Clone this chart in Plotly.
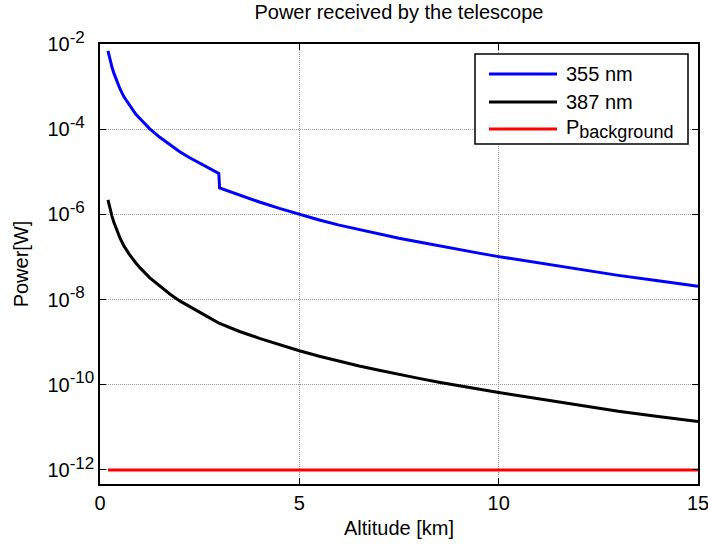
import plotly.graph_objects as go

# ---- data ----
alt_355 = [0.2, 0.25, 0.3, 0.35, 0.4, 0.5, 0.6, 0.75, 0.9, 1.0, 1.25, 1.5, 1.75, 2.0, 2.25, 2.5, 2.75, 2.98,
           3.0, 3.5, 4.0, 4.5, 5.0, 5.5, 6.0, 6.5, 7.0, 7.5, 8.0, 8.5, 9.0, 9.5, 10.0,
           11.0, 12.0, 13.0, 14.0, 15.0]
p_355 = [6.92e-3, 4.27e-3, 2.88e-3, 2.04e-3, 1.51e-3, 8.9e-4, 5.75e-4, 3.47e-4, 2.24e-4, 1.78e-4,
         1.02e-4, 6.46e-5, 4.27e-5, 2.95e-5, 2.14e-5, 1.58e-5, 1.17e-5, 9.1e-6,
         4.17e-6, 2.82e-6, 1.95e-6, 1.38e-6, 1.0e-6, 7.4e-7, 5.6e-7, 4.37e-7, 3.47e-7, 2.75e-7,
         2.24e-7, 1.82e-7, 1.51e-7, 1.23e-7, 1.02e-7,
         7.2e-8, 5.2e-8, 3.7e-8, 2.75e-8, 2.05e-8]

alt_387 = [0.2, 0.25, 0.3, 0.35, 0.4, 0.5, 0.6, 0.75, 0.9, 1.0, 1.25, 1.5, 1.75, 2.0, 2.25, 2.5, 2.75,
           3.0, 3.5, 4.0, 4.5, 5.0, 5.5, 6.0, 6.5, 7.0, 7.5, 8.0, 8.5, 9.0, 9.5, 10.0,
           11.0, 12.0, 13.0, 14.0, 15.0]
p_387 = [2.19e-6, 1.35e-6, 9.1e-7, 6.46e-7, 4.79e-7, 2.82e-7, 1.82e-7, 1.10e-7, 7.24e-8, 5.62e-8,
         3.24e-8, 2.04e-8, 1.35e-8, 9.3e-9, 6.76e-9, 5.0e-9, 3.72e-9,
         2.75e-9, 1.78e-9, 1.23e-9, 8.7e-10, 6.3e-10, 4.68e-10, 3.55e-10, 2.75e-10, 2.19e-10,
         1.74e-10, 1.41e-10, 1.15e-10, 9.5e-11, 7.9e-11, 6.6e-11,
         4.7e-11, 3.3e-11, 2.4e-11, 1.8e-11, 1.38e-11]

alt_bg = [0.2, 15.0]
p_bg = [1e-12, 1e-12]

series_names = ["355 nm", "387 nm", "P<sub><span style='font-size:18px'>background</span></sub>"]
series_colors = ["#0000ff", "#000000", "#ff0000"]

x_ticks = [0, 5, 10, 15]
y_exps = [-12, -10, -8, -6, -4, -2]
y_tickvals = [10.0 ** e for e in y_exps]
# exponents drawn at ~17px like the MATLAB tex labels; single-digit ones padded with a figure space
y_ticktext = ["10<sup><span style='font-size:17px'>%d%s</span></sup>" % (e, "" if e <= -10 else "\u2007")
              for e in y_exps]

FONT = "Liberation Sans, Arial, sans-serif"
FS = 20

fig = go.Figure()
for (xs, ys), name, col in zip([(alt_355, p_355), (alt_387, p_387), (alt_bg, p_bg)],
                               series_names, series_colors):
    fig.add_trace(go.Scatter(x=xs, y=ys, mode="lines", name=name, showlegend=False,
                             line=dict(color=col, width=3)))

axis_common = dict(
    showline=True, linecolor="black", linewidth=1.5, mirror="ticks",
    ticks="inside", ticklen=6, tickcolor="black", tickwidth=1,
    showgrid=True, gridcolor="#999999", griddash="1px,1px", gridwidth=1,
    zeroline=False, tickfont=dict(family=FONT, size=FS, color="black"),
    ticklabeloverflow="allow",
)

fig.update_xaxes(range=[0, 15], tickvals=x_ticks, ticktext=[str(v) for v in x_ticks],
                 title=dict(text="Altitude [km]", font=dict(family=FONT, size=FS, color="black"), standoff=8),
                 **axis_common)
fig.update_yaxes(type="log", range=[-12.33, -2], tickvals=y_tickvals, ticktext=y_ticktext,
                 title=dict(text="Power[W]", font=dict(family=FONT, size=FS, color="black"), standoff=13),
                 **axis_common)

# ---- legend box (MATLAB style, long line samples) ----
# plot area in paper coords: x 0..1 -> px 100..698, y 0..1 -> px 484..44
def px_x(p):
    return (p - 100) / 598.0

def px_y(p):
    return (484 - p) / 440.0

box_l, box_r, box_t, box_b = 475, 688, 54, 144
fig.add_shape(type="rect", xref="paper", yref="paper",
              x0=px_x(box_l), x1=px_x(box_r), y0=px_y(box_b), y1=px_y(box_t),
              line=dict(color="black", width=1.5), fillcolor="white", layer="above")
row_y = [74, 102, 129]
for ry, name, col in zip(row_y, series_names, series_colors):
    fig.add_shape(type="line", xref="paper", yref="paper",
                  x0=px_x(489), x1=px_x(557), y0=px_y(ry), y1=px_y(ry),
                  line=dict(color=col, width=3), layer="above")
    fig.add_annotation(xref="paper", yref="paper", x=px_x(564), y=px_y(ry),
                       text=name, showarrow=False, xanchor="left", yanchor="middle",
                       font=dict(family=FONT, size=FS, color="black"))

fig.update_layout(
    width=708, height=544,
    margin=dict(l=100, r=10, t=44, b=60, autoexpand=False),
    paper_bgcolor="white", plot_bgcolor="white",
    title=dict(text="Power received by the telescope", x=0.5635, xanchor="center",
               y=0.978, yanchor="middle", font=dict(family=FONT, size=FS, color="black")),
    font=dict(family=FONT, size=FS, color="black"),
    showlegend=False,
)

fig.write_html("out.html")
